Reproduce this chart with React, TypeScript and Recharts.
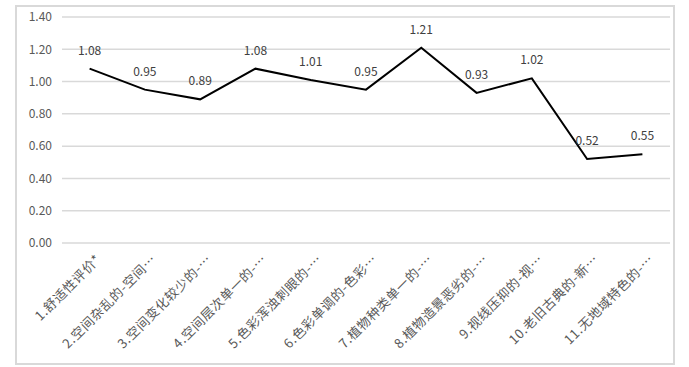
import React from "react";
import { LineChart, Line, XAxis, YAxis, CartesianGrid, LabelList } from "recharts";

// Category labels as truncated in the original chart
const categories = [
  "1.舒适性评价*",
  "2.空间杂乱的-空间…",
  "3.空间变化较少的-…",
  "4.空间层次单一的-…",
  "5.色彩浑浊刺眼的-…",
  "6.色彩单调的-色彩…",
  "7.植物种类单一的-…",
  "8.植物造景恶劣的-…",
  "9.视线压抑的-视…",
  "10.老旧古典的-新…",
  "11.无地域特色的-…",
];

const values = [1.08, 0.95, 0.89, 1.08, 1.01, 0.95, 1.21, 0.93, 1.02, 0.52, 0.55];

const yTicks = [0, 0.2, 0.4, 0.6, 0.8, 1.0, 1.2, 1.4];

const data = categories.map((name, i) => ({ name, value: values[i] }));

const FONT = '"Noto Sans CJK SC", "Noto Sans", sans-serif';
const GRID = "#d9d9d9";

function RotatedTick(props: any) {
  const { x, y, payload } = props;
  return (
    <g transform={`translate(${x + 9},${y + 6}) rotate(-45)`}>
      <text
        x={0}
        y={0}
        dy="0.35em"
        textAnchor="end"
        fill="#595959"
        fontSize={13}
        letterSpacing={0.6}
        fontFamily={FONT}
      >
        {payload.value}
      </text>
    </g>
  );
}

export default function App() {
  return (
    <div style={{ position: "absolute", left: 0, top: 0, width: 689, height: 367, background: "#fff" }}>
      <div
        style={{
          position: "absolute",
          left: 15,
          top: 5,
          width: 656,
          height: 356,
          border: `2px solid ${GRID}`,
        }}
      />
      <div style={{ position: "absolute", left: 0, top: 0 }}>
        <LineChart width={689} height={367} data={data} margin={{ top: 17, right: 19, bottom: 0, left: 0 }}>
          <CartesianGrid vertical={false} stroke={GRID} strokeWidth={1.5} />
          <XAxis
            dataKey="name"
            axisLine={false}
            tickLine={false}
            interval={0}
            height={124}
            padding={{ left: 27.6, right: 27.6 }}
            tick={<RotatedTick />}
          />
          <YAxis
            width={62}
            domain={[0, 1.4]}
            ticks={yTicks}
            axisLine={false}
            tickLine={false}
            tickMargin={4}
            tickFormatter={(v: number) => v.toFixed(2)}
            tick={{ fill: "#595959", fontSize: 12, fontFamily: FONT }}
          />
          <Line
            type="linear"
            dataKey="value"
            stroke="#000"
            strokeWidth={2}
            dot={false}
            isAnimationActive={false}
          >
            <LabelList
              dataKey="value"
              position="top"
              offset={14}
              fill="#404040"
              fontSize={12}
              fontFamily={FONT}
              formatter={(v: number) => v.toFixed(2)}
            />
          </Line>
        </LineChart>
      </div>
    </div>
  );
}
